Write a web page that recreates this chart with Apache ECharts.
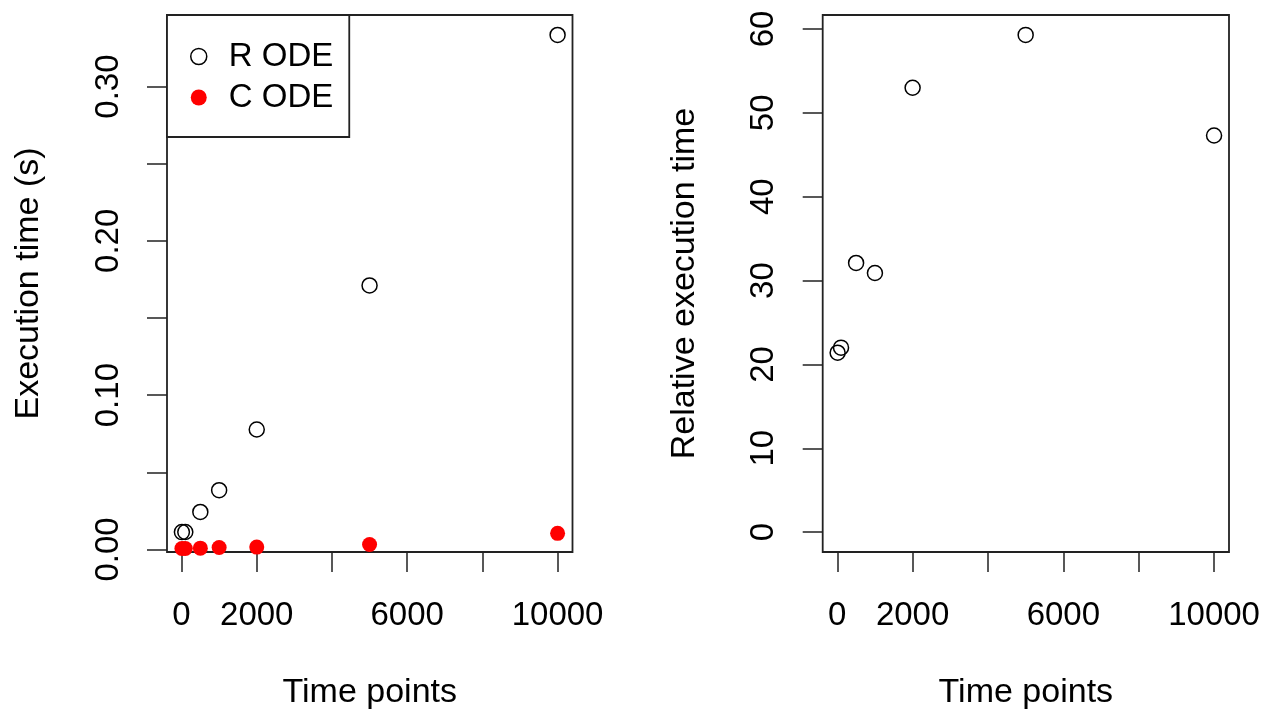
<!DOCTYPE html>
<html>
<head>
<meta charset="utf-8">
<title>ODE execution time</title>
<script src="https://cdn.jsdelivr.net/npm/echarts@6/dist/echarts.min.js"></script>
<style>
    html, body {margin: 0; padding: 0; background: #fff;}
    #main {width: 1270px; height: 713px;}
</style>
</head>
<body>
<div id="main"></div>
<script>
// data
var timePoints = [10, 100, 500, 1000, 2000, 5000, 10000];
var rOde = [0.0112, 0.0113, 0.0243, 0.0384, 0.0777, 0.1711, 0.3335];
var cOde = [0.0006, 0.0006, 0.0008, 0.0012, 0.0015, 0.0032, 0.0104];
var relTime = [21.4, 22.0, 32.1, 30.9, 53.0, 59.3, 47.3];

// ticks and labels
var xTicks = [0, 2000, 4000, 6000, 8000, 10000];
var xLabels = [0, 2000, 6000, 10000];
var leftYTicks = [0, 0.05, 0.10, 0.15, 0.20, 0.25, 0.30];
var leftYLabels = [0, 0.10, 0.20, 0.30];
var rightYTicks = [0, 10, 20, 30, 40, 50, 60];

var FONT = 'Liberation Sans';
var INK = '#222';

function zip(xs, ys) {
    var out = [];
    for (var i = 0; i < xs.length; i++) out.push([xs[i], ys[i]]);
    return out;
}

function xAxisFor(gridIndex) {
    return {
        type: 'value',
        gridIndex: gridIndex,
        min: -386.4,
        max: 10396.4,
        name: 'Time points',
        nameLocation: 'middle',
        nameGap: 124,
        nameTextStyle: {fontFamily: FONT, fontSize: 34, color: '#000'},
        axisLine: {show: false, onZero: false},
        splitLine: {show: false},
        axisTick: {show: true, inside: false, length: 20, customValues: xTicks,
            lineStyle: {color: INK, width: 1.5}},
        axisLabel: {customValues: xLabels, margin: 47, fontFamily: FONT, fontSize: 33, color: '#000',
            formatter: function (v) { return String(v); }}
    };
}

var chart = echarts.init(document.getElementById('main'));

var option = {
    animation: false,
    backgroundColor: '#fff',
    grid: [
        {left: 167, top: 15, width: 405.5, height: 537, show: true, borderColor: INK, borderWidth: 1.8,
            backgroundColor: 'transparent', outerBoundsMode: 'none'},
        {left: 822.7, top: 15, width: 406.3, height: 537, show: true, borderColor: INK, borderWidth: 1.8,
            backgroundColor: 'transparent', outerBoundsMode: 'none'}
    ],
    xAxis: [xAxisFor(0), xAxisFor(1)],
    yAxis: [
        {
            type: 'value',
            gridIndex: 0,
            min: -0.00169,
            max: 0.3464,
            name: 'Execution time (s)',
            nameLocation: 'middle',
            nameGap: 121,
            nameTextStyle: {fontFamily: FONT, fontSize: 34, color: '#000'},
            axisLine: {show: false, onZero: false},
            splitLine: {show: false},
            axisTick: {show: true, length: 20, customValues: leftYTicks,
                lineStyle: {color: INK, width: 1.5}},
            axisLabel: {customValues: leftYLabels, rotate: 90, margin: 42, fontFamily: FONT, fontSize: 33,
                color: '#000', formatter: function (v) { return v.toFixed(2); }}
        },
        {
            type: 'value',
            gridIndex: 1,
            min: -2.372,
            max: 61.672,
            name: 'Relative execution time',
            nameLocation: 'middle',
            nameGap: 121,
            nameTextStyle: {fontFamily: FONT, fontSize: 34, color: '#000'},
            axisLine: {show: false, onZero: false},
            splitLine: {show: false},
            axisTick: {show: true, length: 20, customValues: rightYTicks,
                lineStyle: {color: INK, width: 1.5}},
            axisLabel: {customValues: rightYTicks, rotate: 90, margin: 42, fontFamily: FONT, fontSize: 33,
                color: '#000', formatter: function (v) { return String(v); }}
        }
    ],
    legend: {
        orient: 'vertical',
        left: 167,
        top: 15,
        padding: [25, 16, 23, 23],
        itemGap: 8,
        itemWidth: 16,
        itemHeight: 16,
        backgroundColor: '#fff',
        borderColor: INK,
        borderWidth: 1.8,
        borderRadius: 0,
        textStyle: {fontFamily: FONT, fontSize: 33, color: '#000', padding: [0, 0, 0, 17]},
        data: [
            {name: 'R ODE', icon: 'circle',
                itemStyle: {color: 'rgba(0,0,0,0)', borderColor: '#000', borderWidth: 1.5}},
            {name: 'C ODE', icon: 'circle', itemStyle: {color: '#ff0000', borderWidth: 0}}
        ]
    },
    series: [
        {
            name: 'R ODE',
            type: 'scatter',
            xAxisIndex: 0,
            yAxisIndex: 0,
            symbol: 'circle',
            symbolSize: 15,
            itemStyle: {color: 'rgba(0,0,0,0)', borderColor: '#000', borderWidth: 1.5, opacity: 1},
            data: zip(timePoints, rOde)
        },
        {
            name: 'C ODE',
            type: 'scatter',
            xAxisIndex: 0,
            yAxisIndex: 0,
            symbol: 'circle',
            symbolSize: 15,
            itemStyle: {color: '#ff0000', opacity: 1},
            data: zip(timePoints, cOde)
        },
        {
            name: 'Relative',
            type: 'scatter',
            xAxisIndex: 1,
            yAxisIndex: 1,
            symbol: 'circle',
            symbolSize: 15,
            itemStyle: {color: 'rgba(0,0,0,0)', borderColor: '#000', borderWidth: 1.5, opacity: 1},
            data: zip(timePoints, relTime)
        }
    ]
};

chart.setOption(option);
</script>
</body>
</html>
